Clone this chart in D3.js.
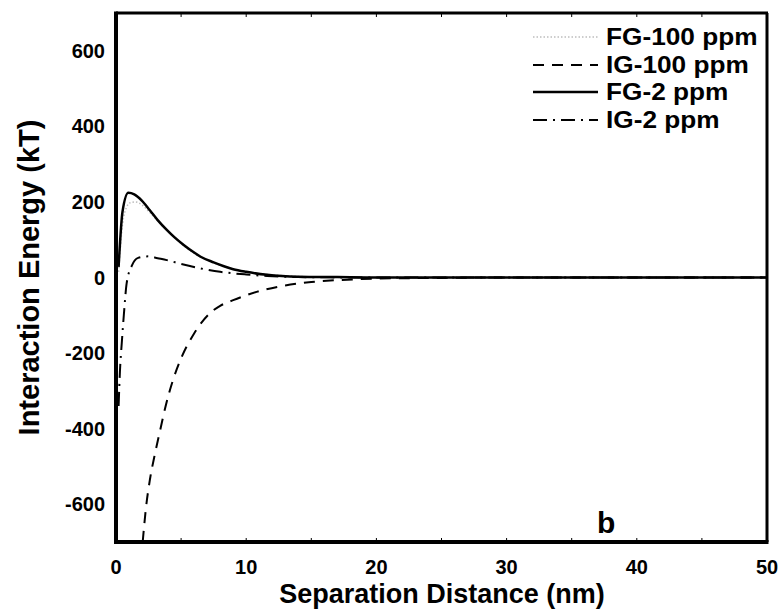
<!DOCTYPE html>
<html>
<head>
<meta charset="utf-8">
<script src="https://cdn.jsdelivr.net/npm/d3@7"></script>
<style>
  body { margin: 0; background: #fff; }
  text { font-family: "Liberation Sans", Arial, sans-serif; font-weight: bold; }
</style>
</head>
<body>
<svg id="chart" width="782" height="610"></svg>
<script>
// values (x in nm, y in kT)
var fg100X = [0.2, 0.5, 0.8, 1.1, 1.5, 2, 2.6, 3.2, 4, 5, 6, 7, 8, 9, 10, 12, 14, 16, 20, 30, 40, 50];
var fg100Y = [15, 140, 185, 198, 200, 192, 172, 150, 122, 90, 64, 46, 32, 22, 15, 7, 3, 1, 0, 0, 0, 0];

var ig100X = [2.05, 2.3, 2.6, 3.0, 3.4, 3.8, 4.3, 5.0, 6.0, 7.2, 8, 9, 10.8, 13, 15, 17, 20, 25, 30, 40, 50];
var ig100Y = [-700, -610, -536, -465, -403, -342, -280, -214, -148, -95, -75, -60, -38, -21, -12, -7, -3, -1, 0, 0, 0];

var fg2X = [0.2, 0.5, 0.95, 1.4, 2, 2.6, 3.2, 3.9, 4.5, 5.2, 6, 6.5, 7.5, 9, 10, 11.6, 14, 17, 20, 30, 40, 50];
var fg2Y = [28, 174, 224, 220, 203, 178, 152, 126, 106, 86, 66, 55, 40, 22, 15, 7, 2, 1, 0, 0, 0, 0];

var ig2X = [0.2, 0.3, 0.45, 0.6, 0.82, 1.2, 1.7, 2.5, 3.2, 3.9, 5, 6.5, 8, 9, 10, 11.6, 14, 20, 30, 40, 50];
var ig2Y = [-340, -250, -170, -100, -15, 30, 52, 56, 51, 46, 36, 24, 15, 11, 8, 4, 1, 0, 0, 0, 0];

var xTicks = [0, 10, 20, 30, 40, 50];
var yTicks = [-600, -400, -200, 0, 200, 400, 600];

var seriesNames = ["FG-100 ppm", "IG-100 ppm", "FG-2 ppm", "IG-2 ppm"];

var margin = { left: 116, right: 767, top: 13, bottom: 542 };

var svg = d3.select("#chart");

var x = d3.scaleLinear().domain([0, 50]).range([margin.left, margin.right]);
var y = d3.scaleLinear().domain([-700, 700]).range([margin.bottom, margin.top]);

var styles = [
  { color: "#bdbdbd", width: 1.5, dash: "1.5,2" },
  { color: "#000", width: 2, dash: "11,8" },
  { color: "#000", width: 2.5, dash: null },
  { color: "#000", width: 2, dash: "14,6,2,6" }
];

var series = [
  { xs: fg100X, ys: fg100Y },
  { xs: ig100X, ys: ig100Y },
  { xs: fg2X, ys: fg2Y },
  { xs: ig2X, ys: ig2Y }
];

var line = d3.line()
    .x(function(d) { return x(d[0]); })
    .y(function(d) { return y(d[1]); })
    .curve(d3.curveMonotoneX);

svg.append("clipPath").attr("id", "clip")
  .append("rect")
  .attr("x", margin.left).attr("y", margin.top)
  .attr("width", margin.right - margin.left)
  .attr("height", margin.bottom - margin.top);

series.forEach(function(s, i) {
  var pts = s.xs.map(function(v, j) { return [v, s.ys[j]]; });
  svg.append("path")
    .datum(pts)
    .attr("clip-path", "url(#clip)")
    .attr("fill", "none")
    .attr("stroke", styles[i].color)
    .attr("stroke-width", styles[i].width)
    .attr("stroke-dasharray", styles[i].dash)
    .attr("d", line);
});

// frame
svg.append("line").attr("x1", margin.left).attr("x2", margin.right + 1)
  .attr("y1", margin.top).attr("y2", margin.top)
  .attr("stroke", "#000").attr("stroke-width", 3);
svg.append("line").attr("x1", margin.right).attr("x2", margin.right)
  .attr("y1", margin.top).attr("y2", margin.bottom)
  .attr("stroke", "#000").attr("stroke-width", 3);
svg.append("line").attr("x1", margin.left).attr("x2", margin.left)
  .attr("y1", margin.top - 1.5).attr("y2", margin.bottom + 2)
  .attr("stroke", "#000").attr("stroke-width", 4);
svg.append("line").attr("x1", margin.left).attr("x2", margin.right + 1.5)
  .attr("y1", margin.bottom).attr("y2", margin.bottom)
  .attr("stroke", "#000").attr("stroke-width", 4);

// small inward ticks every 5 nm
var minorX = d3.range(5, 50, 5);
svg.selectAll(".tb").data(minorX).enter().append("line")
  .attr("x1", function(d) { return x(d); }).attr("x2", function(d) { return x(d); })
  .attr("y1", margin.bottom).attr("y2", margin.bottom - 4)
  .attr("stroke", "#000").attr("stroke-width", 1);
svg.selectAll(".tt").data(minorX).enter().append("line")
  .attr("x1", function(d) { return x(d); }).attr("x2", function(d) { return x(d); })
  .attr("y1", margin.top).attr("y2", margin.top + 4)
  .attr("stroke", "#000").attr("stroke-width", 1);

// tick labels
svg.selectAll(".xl").data(xTicks).enter().append("text")
  .attr("x", function(d) { return x(d); })
  .attr("y", 574)
  .attr("text-anchor", "middle")
  .style("font-size", "20px")
  .text(function(d) { return d; });

svg.selectAll(".yl").data(yTicks).enter().append("text")
  .attr("x", 105)
  .attr("y", function(d) { return y(d) + 7; })
  .attr("text-anchor", "end")
  .style("font-size", "20px")
  .text(function(d) { return d; });

// axis titles
svg.append("text")
  .attr("x", 442)
  .attr("y", 603)
  .attr("text-anchor", "middle")
  .style("font-size", "27px")
  .text("Separation Distance (nm)");

svg.append("text")
  .attr("transform", "translate(39," + y(0) + ") rotate(-90)")
  .attr("text-anchor", "middle")
  .style("font-size", "29px")
  .text("Interaction Energy (kT)");

// legend
var legendY = [37, 65, 92, 120];
var legend = svg.append("g");
seriesNames.forEach(function(name, i) {
  legend.append("line")
    .attr("x1", 533).attr("x2", 598)
    .attr("y1", legendY[i]).attr("y2", legendY[i])
    .attr("stroke", styles[i].color)
    .attr("stroke-width", styles[i].width)
    .attr("stroke-dasharray", styles[i].dash);
  legend.append("text")
    .attr("transform", "translate(606," + (legendY[i] + 8) + ") scale(1.14,1)")
    .style("font-size", "23px")
    .text(name);
});

svg.append("text")
  .attr("x", 597)
  .attr("y", 533)
  .style("font-size", "30px")
  .text("b");
</script>
</body>
</html>
